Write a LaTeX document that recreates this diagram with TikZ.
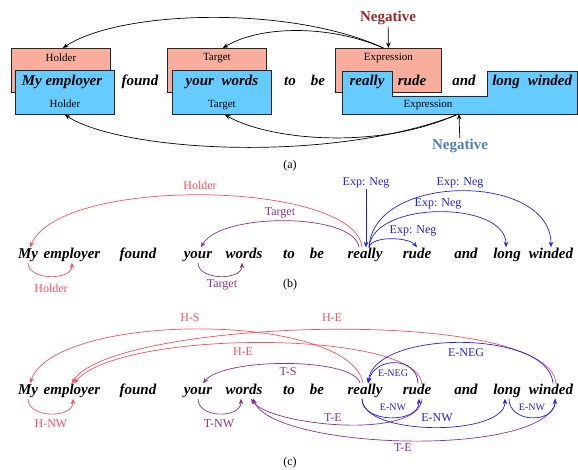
\documentclass[tikz,border=0pt]{standalone}
\usepackage{fontspec}
\setmainfont{Liberation Serif}
\usetikzlibrary{calc,arrows.meta}

\definecolor{salm}{HTML}{F9AE9D}
\definecolor{skyb}{HTML}{66CCFF}
\definecolor{negred}{HTML}{A02828}
\definecolor{negblue}{HTML}{4F7FBF}
\definecolor{holc}{HTML}{FF4D55}
\definecolor{tarc}{HTML}{8E2C9A}
\definecolor{expc}{HTML}{1E1EFF}

\tikzset{
  word/.style={font=\fontsize{15}{17}\selectfont\bfseries\itshape, inner sep=1pt, text height=10pt, text depth=3pt},
  lbl/.style={font=\fontsize{12}{14}\selectfont, inner sep=1pt},
  slbl/.style={font=\fontsize{10}{12}\selectfont, inner sep=1pt},
  boxlbl/.style={font=\fontsize{11}{13}\selectfont, inner sep=0pt},
  negl/.style={font=\fontsize{15}{17}\selectfont\bfseries, inner sep=1pt},
  salbox/.style={draw=black!85, fill=salm, line width=0.8pt, minimum width=99, minimum height=44, anchor=north west, inner sep=0pt},
  skybox/.style={draw=black!85, fill=skyb, line width=0.8pt, minimum width=99, minimum height=44, anchor=north west, inner sep=0pt},
  arr/.style={-{Stealth[length=5.5pt,width=4.5pt]}, line width=0.7pt},
  hol/.style={arr, draw=holc},
  tar/.style={arr, draw=tarc},
  exn/.style={arr, draw=expc}
}

\begin{document}
\begin{tikzpicture}[x=1pt,y=-1pt]
  \useasboundingbox (0,0) rectangle (578,470);

  % (a)
  \node[salbox] (hs) at (11,48) {};
  \node[salbox] (ts) at (167,48) {};
  \node[salbox, minimum width=106] (es) at (335,48) {};
  \node[skybox] (hb) at (15,70) {};
  \node[skybox] (tb) at (172,70) {};
  \draw[fill=skyb, draw=black!85, line width=0.8pt] (342,71) -- (392,71) -- (392,96) -- (487,96)
      -- (487,71) -- (577,71) -- (577,114) -- (342,114) -- cycle;
  \coordinate (eb) at (459,114);

  \node[boxlbl] (hsl) at ($(hs.north)+(0,10)$) {Holder};
  \node[boxlbl] (tsl) at ($(ts.north)+(0,10)$) {Target};
  \node[boxlbl] (esl) at ($(es.north)+(0,10)$) {Expression};
  \node[boxlbl] (hbl) at ($(hb.south)+(0,-11)$) {Holder};
  \node[boxlbl] (tbl) at ($(tb.south)+(0,-10)$) {Target};
  \node[boxlbl] (ebl) at (428,105) {Expression};

  \node[word] (amy) at (62,82) {My employer};
  \node[word] (afnd) at (140,82) {found};
  \node[word] (ayw) at (222,82) {your\ \ words};
  \node[word] (ato) at (290,82) {to};
  \node[word] (abe) at (318,82) {be};
  \node[word] (arl) at (367,82) {really};
  \node[word] (ard) at (412,82) {rude};
  \node[word] (aan) at (464,82) {and};
  \node[word] (alg) at (506,82) {long};
  \node[word] (awn) at (550,82) {winded};

  \node[negl, text=negred] (neg1) at (388,18) {Negative};
  \node[negl, text=negblue] (neg2) at (460,146) {Negative};
  \draw[arr] (neg1) -- (es.north);
  \draw[arr] (neg2) -- (eb);

  \draw[arr] ([xshift=-5]es.north) .. controls +(-93,-43) and +(57,-38) .. ([xshift=2]hs.north);
  \draw[arr] ([xshift=-5]es.north) .. controls +(-53,-23) and +(38,-23) .. ([xshift=6]ts.north);
  \draw[arr] (eb) .. controls +(-130,51) and +(55,36) .. (hb.south);
  \draw[arr] ([xshift=-1]eb) .. controls +(-78,36) and +(46,26) .. ([xshift=3]tb.south);

  \node[lbl] (capa) at (290,166) {(a)};

  % (b) and (c) words
  \foreach \w/\x/\n in {My/28/my, employer/72/emp, found/138/fnd, your/198/yr, words/244/wd,
      to/289/to, be/317/be, really/365/rl, rude/417/rd, and/466/an, long/507/lg, winded/551/wn}
    {
      \node[word] (b\n) at (\x,255) {\w};
      \node[word] (c\n) at (\x,391) {\w};
    }

  % (b)
  \draw[hol] ([xshift=-3]brl.north) .. controls +(-7,-67) and +(30,-72) .. ([xshift=2]bmy.north);
  \draw[tar] ([xshift=-6]brl.north) .. controls +(-5,-35) and +(19,-35) .. ([xshift=3]byr.north);
  \draw[hol] (bmy.south) .. controls +(0,18) and +(0,18) .. (bemp.south);
  \draw[tar] (byr.south) .. controls +(0,18) and +(0,18) .. ([xshift=-2]bwd.south);

  \node[lbl, text=expc] (le0) at (366,183) {Exp: Neg};
  \node[lbl, text=expc] (le1) at (413,231) {Exp: Neg};
  \node[lbl, text=expc] (le2) at (438,204) {Exp: Neg};
  \node[lbl, text=expc] (le3) at (460,183) {Exp: Neg};
  \draw[exn] (le0.south) -- (le0.south |- brl.north);
  \draw[exn] ([xshift=4]brl.north) .. controls +(3,-12) and +(-8,-10) .. (brd.north);
  \draw[exn] ([xshift=4]brl.north) .. controls +(4,-47) and +(0,-47) .. ([xshift=-1]blg.north);
  \draw[exn] ([xshift=4]brl.north) .. controls +(4,-75) and +(0,-75) .. (bwn.north);

  \node[lbl, text=holc] (lh1) at (200,185) {Holder};
  \node[lbl, text=tarc] (lt1) at (280,213) {Target};
  \node[lbl, text=holc] (lh2) at (51,288) {Holder};
  \node[lbl, text=tarc] (lt2) at (222,285) {Target};

  \node[lbl] (capb) at (290,285) {(b)};

  % (c)
  \draw[hol] ([xshift=-2]crl.north) .. controls +(-13,-72) and +(25,-72) .. ([xshift=2]cmy.north);
  \draw[hol] ([xshift=5]cwn.north) .. controls +(-7,-79) and +(38,-64) .. (cemp.north);
  \draw[hol] ([xshift=5]crd.north) .. controls +(-7,-54) and +(46,-54) .. ([xshift=2]cemp.north);
  \draw[tar] ([xshift=-5]crl.north) .. controls +(-6,-26) and +(21,-26) .. ([xshift=5]cyr.north);
  \draw[hol] (cmy.south) .. controls +(0,20) and +(0,20) .. ([xshift=1]cemp.south);
  \draw[tar] (cyr.south) .. controls +(0,20) and +(0,20) .. ([xshift=-3]cwd.south);
  \draw[tar] ([xshift=5]crd.south) .. controls +(-2,42) and +(18,27) .. ([xshift=7]cwd.south);
  \draw[tar] ([xshift=5]cwn.south) .. controls +(-2,60) and +(21,52) .. ([xshift=9]cwd.south);
  \draw[exn] ([xshift=2]cwn.north) .. controls +(-4,-54) and +(7,-54) .. ([xshift=3]crl.north);
  \draw[exn] ([xshift=1]crd.north) .. controls +(-1,-27) and +(7,-27) .. ([xshift=3]crl.north);
  \draw[exn] ([xshift=-3]crl.south) .. controls +(0,25) and +(0,25) .. ([xshift=2]crd.south);
  \draw[exn] ([xshift=-3]crl.south) .. controls +(0,38) and +(0,38) .. ([xshift=-2]clg.south);
  \draw[exn] ([xshift=2]clg.south) .. controls +(0,25) and +(0,25) .. ([xshift=4]cwn.south);

  \node[lbl, text=holc] (lhs) at (190,318) {H-S};
  \node[lbl, text=holc] (lhe1) at (332,318) {H-E};
  \node[lbl, text=holc] (lhe2) at (243,352) {H-E};
  \node[lbl, text=tarc] (lts) at (288,372) {T-S};
  \node[slbl, text=expc] (len1) at (393,373) {E-NEG};
  \node[lbl, text=expc] (len2) at (466,353) {E-NEG};
  \node[slbl, text=expc] (lnw1) at (393,407) {E-NW};
  \node[lbl, text=expc] (lnw2) at (437,418) {E-NW};
  \node[slbl, text=expc] (lnw3) at (532,407) {E-NW};
  \node[lbl, text=tarc] (lte1) at (333,418) {T-E};
  \node[lbl, text=tarc] (lte2) at (403,448) {T-E};
  \node[lbl, text=holc] (lhnw) at (51,424) {H-NW};
  \node[lbl, text=tarc] (ltnw) at (219,424) {T-NW};

  \node[lbl] (capc) at (290,463) {(c)};
\end{tikzpicture}
\end{document}
